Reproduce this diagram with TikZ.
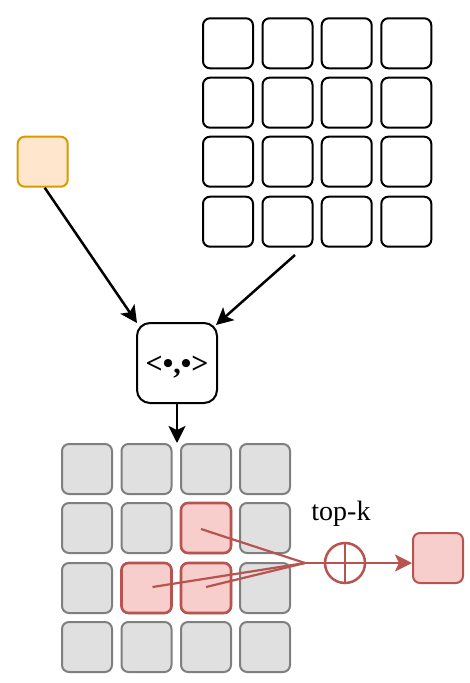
\documentclass[tikz,border=0pt]{standalone}
\usepackage{fontspec}
\setmainfont{Liberation Serif}
\usetikzlibrary{arrows.meta,calc}
\definecolor{rstroke}{HTML}{B85450}
\definecolor{rfill}{HTML}{F8CECC}
\definecolor{ostroke}{HTML}{D79B00}
\definecolor{ofill}{HTML}{FFE6CC}
\definecolor{gfill}{HTML}{E0E0E0}
\definecolor{gstroke}{HTML}{7F7F7F}
\tikzset{
  cell/.style={draw=black,line width=2pt,rounded corners=7pt,minimum width=50pt,minimum height=50pt,inner sep=0pt},
  wcell/.style={cell,fill=white},
  gcell/.style={cell,fill=gfill,draw=gstroke},
  rcell/.style={cell,fill=rfill,draw=rstroke,line width=2.6pt},
  ocell/.style={cell,fill=ofill,draw=ostroke},
  bigbox/.style={draw=black,line width=2pt,rounded corners=13pt,minimum width=80pt,minimum height=80pt,inner sep=0pt,fill=white},
  tip/.style={-{Stealth[length=17pt,width=17pt,inset=4pt]}},
  blk/.style={line width=2.5pt,tip},
  redl/.style={draw=rstroke,line width=2.2pt},
}
\begin{document}
\begin{tikzpicture}[x=1pt,y=-1pt]
\useasboundingbox (0,0) rectangle (470,683);
% top grid
\foreach \i/\x in {0/228,1/287.5,2/346.7,3/406.3}{
  \foreach \j/\y in {0/43.3,1/102.7,2/161.7,3/221.7}{
    \node[wcell] (t\j\i) at (\x,\y) {};
  }
}
% orange query
\node[ocell] (q) at (42.7,161.7) {};
% inner product box
\node[bigbox] (ip) at (177,363) {};
\node[font=\fontsize{30}{32}\selectfont\bfseries,inner sep=0pt] (iptext) at ($(ip.center)+(0,4)$) {<•,•>};
% bottom grid
\foreach \i/\x in {0/87,1/146.5,2/206,3/265}{
  \foreach \j/\y in {0/469,1/528,2/588,3/647}{
    \node[gcell] (b\j\i) at (\x,\y) {};
  }
}
\node[rcell] (b12) at (206,528) {};
\node[rcell] (b21) at (146.5,588) {};
\node[rcell] (b22) at (206,588) {};
% arrows into ip
\coordinate (tg) at (295,255);
\draw[blk] ($(q.south)+(2,0)$) -- ($(ip.north west)+(1,1)$);
\draw[blk] (tg) -- ($(ip.north east)+(-2,3)$);
\coordinate (ipend) at (177,443);
\draw[blk] (ip.south) -- (ipend);
% top-k aggregation
\coordinate (J) at (305,563);
\node[circle,draw=rstroke,line width=2.5pt,fill=white,minimum size=40pt,inner sep=0pt] (sum) at (345,563) {};
\draw[rstroke,line width=2.5pt] (sum.west) -- (sum.east) (sum.north) -- (sum.south);
\node[cell,fill=rfill,draw=rstroke] (out) at (438,558) {};
\node[anchor=base,font=\fontsize{28}{30}\selectfont] (tk) at (341,520) {top-k};
\coordinate (p1) at ($(b12)+(-5,1)$);
\coordinate (p2) at ($(b21)+(6,-1)$);
\coordinate (p3) at ($(b22)+(0,-1)$);
\draw[redl] (p1) -- (J);
\draw[redl] (p2) -- (J);
\draw[redl] (p3) -- (J);
\draw[redl] (J) -- (sum.west);
\draw[redl,tip] (sum.east) -- (out.west |- sum.east);
\end{tikzpicture}
\end{document}
